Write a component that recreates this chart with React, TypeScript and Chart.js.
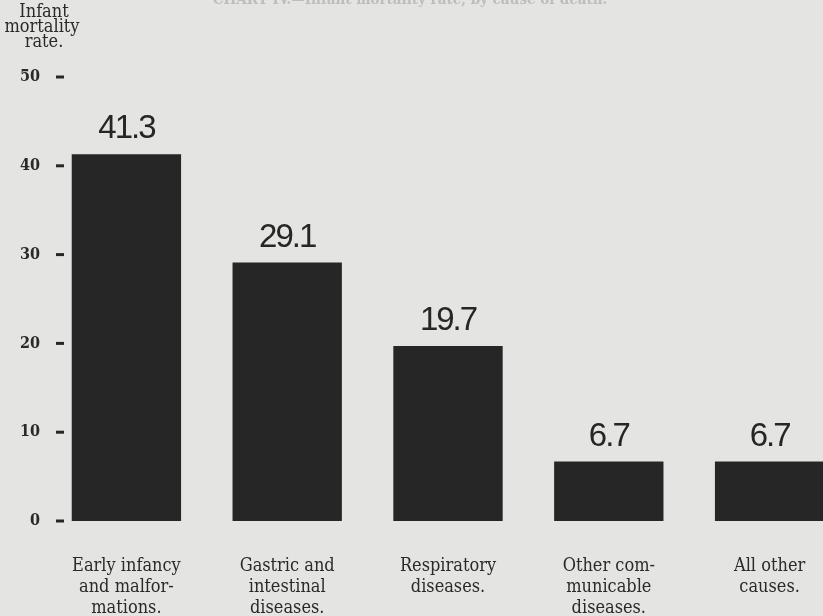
import React, { useEffect, useRef } from "react";
import { Chart, registerables } from "chart.js";

Chart.register(...registerables);

const categories: string[][] = [
  ["Early infancy", "and malfor-", "mations."],
  ["Gastric and", "intestinal", "diseases."],
  ["Respiratory", "diseases."],
  ["Other com-", "municable", "diseases."],
  ["All other", "causes."],
];
const rates: number[] = [41.3, 29.1, 19.7, 6.7, 6.7];
const valueLabels: string[] = ["41.3", "29.1", "19.7", "6.7", "6.7"];
const yTicks: number[] = [0, 10, 20, 30, 40, 50];
const yTitleLines: string[] = ["Infant", "mortality", "rate."];
const chartTitle = "CHART IV.—Infant mortality rate, by cause of death.";

const INK = "#262626";
const PAPER = "#e4e4e2";
const SERIF = "'DejaVu Serif Condensed', 'DejaVu Serif', serif";

const decorPlugin = {
  id: "decor",
  afterDatasetsDraw(chart: any) {
    const ctx = chart.ctx;
    const meta = chart.getDatasetMeta(0);
    ctx.save();
    // value labels
    ctx.fillStyle = INK;
    ctx.font = "33px 'Liberation Sans', Arial, sans-serif";
    (ctx as any).letterSpacing = "-2px";
    ctx.textAlign = "center";
    ctx.textBaseline = "alphabetic";
    meta.data.forEach((bar: any, i: number) => {
      ctx.fillText(valueLabels[i], bar.x, bar.y - 16);
    });
    (ctx as any).letterSpacing = "0px";
    // y tick dashes
    const y = chart.scales.y;
    ctx.strokeStyle = INK;
    ctx.lineWidth = 3;
    yTicks.forEach((v) => {
      const py = y.getPixelForValue(v);
      ctx.beginPath();
      ctx.moveTo(56, py);
      ctx.lineTo(64, py);
      ctx.stroke();
    });
    // y title
    ctx.fillStyle = "#2a2a2a";
    ctx.font = "18px " + SERIF;
    ctx.textAlign = "center";
    const centers = [44, 42, 44];
    yTitleLines.forEach((t, i) => {
      ctx.fillText(t, centers[i], 17 + i * 15);
    });
    // faint, cut-off chart title
    ctx.fillStyle = "rgba(90,90,90,0.28)";
    ctx.font = "bold 15px " + SERIF;
    ctx.fillText(chartTitle, 410, 4);
    ctx.restore();
  },
};

export default function App() {
  const ref = useRef<HTMLCanvasElement | null>(null);
  useEffect(() => {
    if (!ref.current) return;
    const chart = new Chart(ref.current, {
      type: "bar",
      data: {
        labels: categories,
        datasets: [
          {
            data: rates,
            backgroundColor: INK,
            borderWidth: 0,
            categoryPercentage: 1,
            barPercentage: 0.68,
          },
        ],
      },
      options: {
        animation: false,
        responsive: false,
        maintainAspectRatio: false,
        layout: { padding: { top: 77, right: 10, left: 0, bottom: 0 } },
        plugins: {
          legend: { display: false },
          tooltip: { enabled: false },
          title: { display: false },
        },
        scales: {
          x: {
            grid: { display: false, drawTicks: false },
            border: { display: false },
            ticks: {
              color: "#2a2a2a",
              font: { family: SERIF, size: 18, lineHeight: 1.16 },
              padding: 35,
              maxRotation: 0,
              autoSkip: false,
            },
            afterFit: (s: any) => {
              s.height = 95;
            },
          },
          y: {
            min: 0,
            max: 50,
            grid: { display: false, drawTicks: false },
            border: { display: false },
            ticks: {
              stepSize: 10,
              color: "#2a2a2a",
              font: { family: SERIF, size: 16, weight: "bold" },
              padding: 6,
            },
            afterFit: (s: any) => {
              s.width = 46;
            },
          },
        },
      },
      plugins: [decorPlugin],
    });
    return () => chart.destroy();
  }, []);
  return (
    <div
      style={{
        position: "fixed",
        left: 0,
        top: 0,
        width: 823,
        height: 616,
        overflow: "hidden",
        background: PAPER,
      }}
    >
      <canvas ref={ref} width={860} height={616} style={{ display: "block" }} />
    </div>
  );
}
